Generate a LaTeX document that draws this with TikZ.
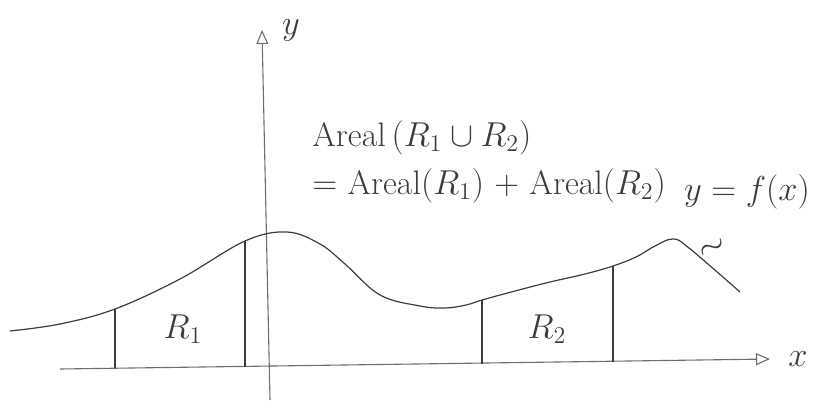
\documentclass[tikz,border=0pt]{standalone}
\usepackage{amsmath}
\usepackage{amssymb}
\usepackage{tikz}
\usepackage{xcolor}
\usetikzlibrary{arrows.meta, positioning, calc}
\definecolor{cPencil}{RGB}{60,60,60}
\definecolor{cAxis}{RGB}{110,110,110}
\tikzset{
	axisline/.style={draw=cAxis, line width=0.55pt, -{Triangle[open, length=7pt, width=6pt]}},
	curveline/.style={draw=cPencil, line width=0.6pt},
	edgeline/.style={draw=cPencil, line width=0.6pt},
	hand/.style={text=cPencil, font=\fontsize{17}{20}\selectfont, inner sep=1pt},
}
\begin{document}
\begin{tikzpicture}[x=0.5pt, y=-0.5pt]
	\useasboundingbox (0,0) rectangle (821,403);
	% axes
	\coordinate (xs) at (60,369);
	\coordinate (xe) at (770,359);
	\coordinate (ys) at (270,400);
	\coordinate (ye) at (262,30);
	\draw[axisline] (xs) -- (xe);
	\draw[axisline] (ys) -- (ye);
	\node[hand, right=8pt of xe] (xlab) {$x$};
	\node[hand] (ylab) at (291,30) {$y$};
	% the graph of f
	\draw[curveline] plot[smooth, tension=0.6] coordinates {
		(10,331) (60,324) (115,309) (180,279) (245,241) (287,232) (320,244)
		(345,264) (380,295) (420,306) (445,308) (466,305) (482,300) (515,291)
		(550,282) (585,274) (613,266) (636,257) (655,246) (673,239) (689,248)
		(740,292)};
	% sides of the regions
	\coordinate (a1) at (115,309);   \coordinate (a1b) at (115,368);
	\coordinate (b1) at (245,241);   \coordinate (b1b) at (245,367);
	\coordinate (a2) at (482,300);   \coordinate (a2b) at (482,364);
	\coordinate (b2) at (613,266);   \coordinate (b2b) at (613,362);
	\draw[edgeline] (a1) -- (a1b);
	\draw[edgeline] (b1) -- (b1b);
	\draw[edgeline] (a2) -- (a2b);
	\draw[edgeline] (b2) -- (b2b);
	\node[hand] (r1) at (183,329) {$R_1$};
	\node[hand] (r2) at (547,329) {$R_2$};
	% labels
	\node[hand, anchor=west] (areal1) at (310,138) {Areal\,$(R_1 \cup R_2)$};
	\node[hand, anchor=west] (areal2) at (310,186) {$=$ Areal$(R_1)$ $+$ Areal$(R_2)$};
	\node[hand] (flab) at (747,192) {$y=f(x)$};
	\node[hand, rotate=25] (tl) at (713,249) {$\sim$};
\end{tikzpicture}
\end{document}
